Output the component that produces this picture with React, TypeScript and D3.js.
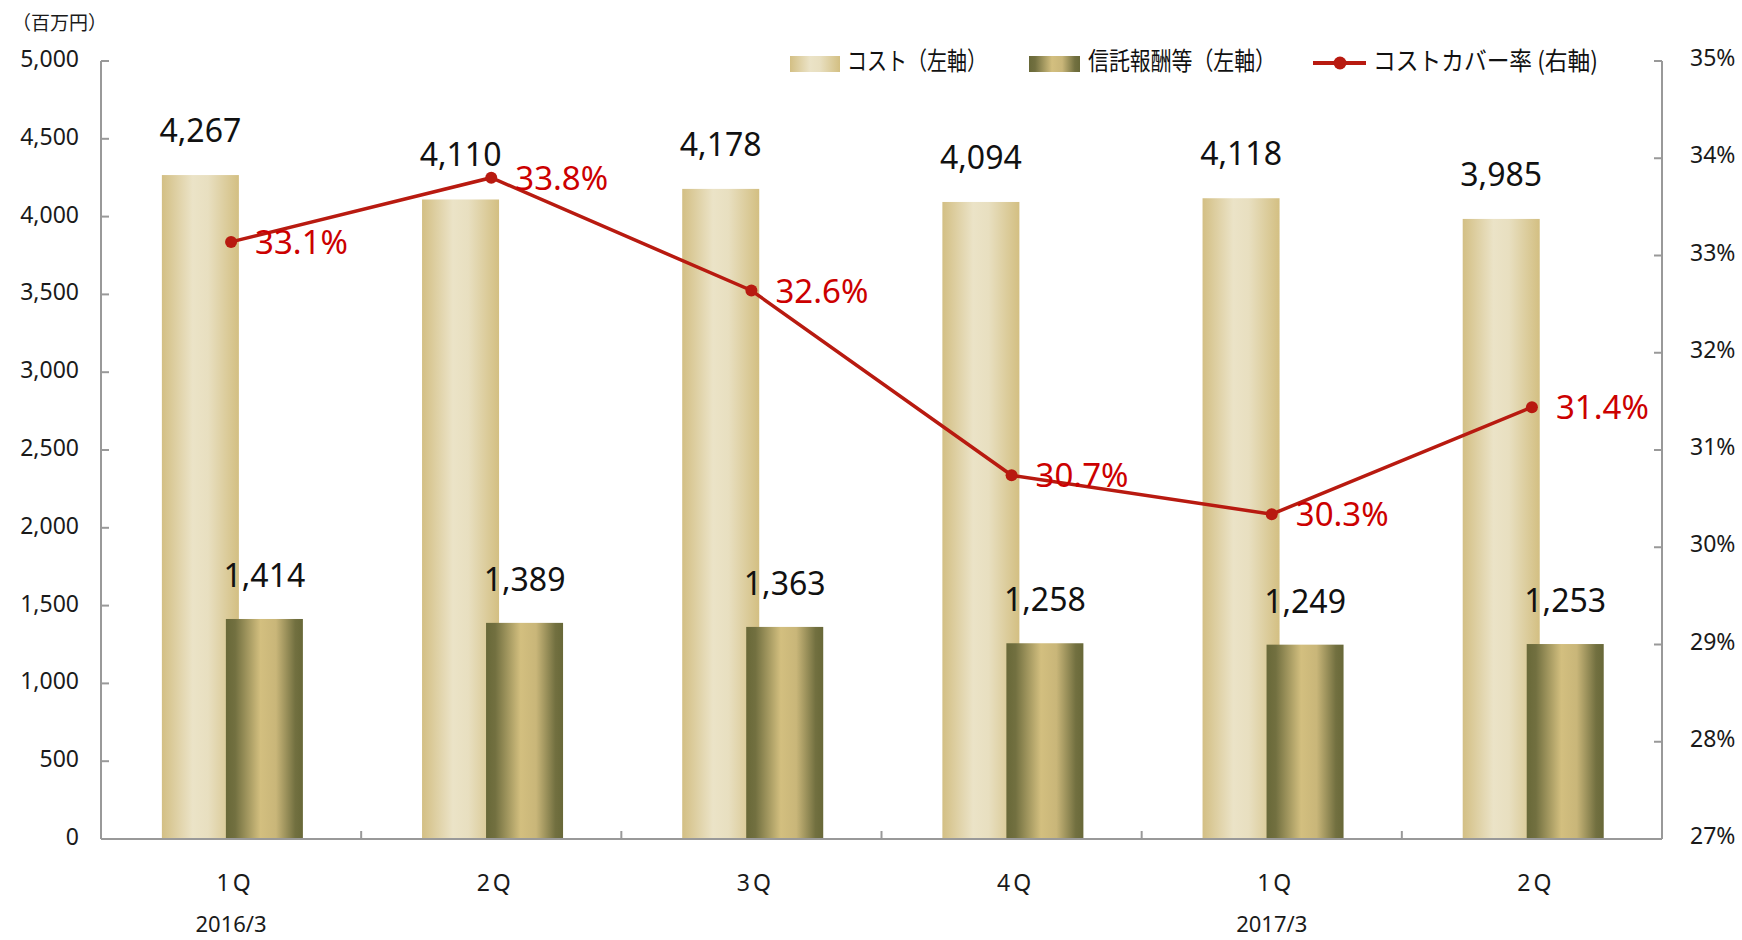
import React, { useEffect, useRef } from 'react';
import * as d3 from 'd3';

// quarters and values
const quarters = ["1Q", "2Q", "3Q", "4Q", "1Q", "2Q"];
const fiscalYears = ["2016/3", "", "", "", "2017/3", ""];
const cost = [4267, 4110, 4178, 4094, 4118, 3985];
const trustFees = [1414, 1389, 1363, 1258, 1249, 1253];
const coverRate = [33.14, 33.8, 32.64, 30.74, 30.34, 31.44];

const leftTicks = [0, 500, 1000, 1500, 2000, 2500, 3000, 3500, 4000, 4500, 5000];
const rightTicks = [27, 28, 29, 30, 31, 32, 33, 34, 35];

const width = 1742;
const height = 940;
const margin = { top: 61, right: 80, bottom: 101, left: 101 };

const jpFont = "'Noto Sans CJK JP', 'Noto Sans', sans-serif";
const numFont = "'Noto Sans', 'DejaVu Sans', sans-serif";

function App() {
  const ref = useRef<SVGSVGElement>(null);

  useEffect(() => {
    const svg = d3.select(ref.current);
    svg.selectAll("*").remove();

    const x = d3.scaleBand<number>()
      .domain(d3.range(quarters.length))
      .range([margin.left, width - margin.right])
      .padding(0);

    const y = d3.scaleLinear().domain([0, 5000]).range([height - margin.bottom, margin.top]);
    const y2 = d3.scaleLinear().domain([27, 35]).range([height - margin.bottom, margin.top]);

    const bw = x.bandwidth();
    const barW = bw * 0.296;
    const costX = (i: number) => x(i)! + bw * 0.234;
    const feeX = (i: number) => x(i)! + bw * 0.48;

    // gradients
    const defs = svg.append("defs");
    const g1 = defs.append("linearGradient").attr("id", "costGrad").attr("x1", "0").attr("x2", "1").attr("y1", "0").attr("y2", "0");
    g1.append("stop").attr("offset", "0%").attr("stop-color", "#d3bf84");
    g1.append("stop").attr("offset", "40%").attr("stop-color", "#ebe3c7");
    g1.append("stop").attr("offset", "60%").attr("stop-color", "#e8dfc0");
    g1.append("stop").attr("offset", "100%").attr("stop-color", "#d3bf82");
    const g2 = defs.append("linearGradient").attr("id", "feeGrad").attr("x1", "0").attr("x2", "1").attr("y1", "0").attr("y2", "0");
    g2.append("stop").attr("offset", "0%").attr("stop-color", "#686838");
    g2.append("stop").attr("offset", "12%").attr("stop-color", "#727040");
    g2.append("stop").attr("offset", "45%").attr("stop-color", "#d3bf7f");
    g2.append("stop").attr("offset", "65%").attr("stop-color", "#c9b679");
    g2.append("stop").attr("offset", "90%").attr("stop-color", "#727040");
    g2.append("stop").attr("offset", "100%").attr("stop-color", "#686838");

    // bars
    svg.append("g").selectAll("rect").data(cost).join("rect")
      .attr("x", (d, i) => costX(i))
      .attr("y", d => y(d))
      .attr("width", barW)
      .attr("height", d => y(0) - y(d) + 1)
      .attr("fill", "url(#costGrad)");

    svg.append("g").selectAll("rect").data(trustFees).join("rect")
      .attr("x", (d, i) => feeX(i))
      .attr("y", d => y(d))
      .attr("width", barW)
      .attr("height", d => y(0) - y(d) + 1)
      .attr("fill", "url(#feeGrad)");

    // axes
    const axisColor = "#999999";
    const axes = svg.append("g").attr("stroke", axisColor).attr("stroke-width", 2).attr("fill", "none");
    axes.append("line").attr("x1", margin.left).attr("x2", margin.left).attr("y1", y(5000)).attr("y2", y(0));
    axes.append("line").attr("x1", width - margin.right).attr("x2", width - margin.right).attr("y1", y2(35)).attr("y2", y2(27));
    axes.append("line").attr("x1", margin.left).attr("x2", width - margin.right).attr("y1", y(0)).attr("y2", y(0));
    axes.selectAll(".lt").data(leftTicks).join("line")
      .attr("x1", margin.left).attr("x2", margin.left + 8)
      .attr("y1", d => y(d)).attr("y2", d => y(d));
    axes.selectAll(".rt").data(rightTicks).join("line")
      .attr("class", "rt")
      .attr("x1", width - margin.right - 8).attr("x2", width - margin.right)
      .attr("y1", d => y2(d)).attr("y2", d => y2(d));
    axes.selectAll(".xt").data(d3.range(1, quarters.length)).join("line")
      .attr("class", "xt")
      .attr("x1", d => x(d)!).attr("x2", d => x(d)!)
      .attr("y1", y(0)).attr("y2", y(0) - 8);

    // tick labels
    const fmt = d3.format(",");
    svg.append("g").selectAll("text").data(leftTicks).join("text")
      .attr("x", 79).attr("y", d => y(d) + 6)
      .attr("text-anchor", "end")
      .attr("font-family", numFont).attr("font-size", 23).attr("fill", "#1a1a1a")
      .text(d => fmt(d));
    svg.append("g").selectAll("text").data(rightTicks).join("text")
      .attr("x", 1690).attr("y", d => y2(d) + 5)
      .attr("font-family", numFont).attr("font-size", 23).attr("fill", "#1a1a1a")
      .text(d => d + "%");

    svg.append("text").attr("x", 12).attr("y", 30)
      .attr("font-family", jpFont).attr("font-size", 19).attr("fill", "#1a1a1a")
      .text("（百万円）");

    svg.append("g").selectAll("text").data(quarters).join("text")
      .attr("x", (d, i) => x(i)! + bw / 2 + 4).attr("y", 891)
      .attr("text-anchor", "middle")
      .attr("font-family", numFont).attr("font-size", 23).attr("letter-spacing", 3).attr("fill", "#1a1a1a")
      .text(d => d);
    svg.append("g").selectAll("text").data(fiscalYears).join("text")
      .attr("x", (d, i) => x(i)! + bw / 2).attr("y", 932)
      .attr("text-anchor", "middle")
      .attr("font-family", numFont).attr("font-size", 22).attr("fill", "#1a1a1a")
      .text(d => d);

    // bar value labels
    svg.append("g").selectAll("text").data(cost).join("text")
      .attr("x", (d, i) => costX(i) + barW / 2).attr("y", d => y(d) - 33)
      .attr("text-anchor", "middle")
      .attr("font-family", numFont).attr("font-size", 32).attr("fill", "#111")
      .text(d => fmt(d));
    svg.append("g").selectAll("text").data(trustFees).join("text")
      .attr("x", (d, i) => feeX(i) + barW / 2).attr("y", d => y(d) - 32)
      .attr("text-anchor", "middle")
      .attr("font-family", numFont).attr("font-size", 32).attr("fill", "#111")
      .text(d => fmt(d));

    // cover rate line
    const lineColor = "#b81a10";
    const line = d3.line<number>()
      .x((d, i) => x(i)! + bw / 2)
      .y(d => y2(d));
    svg.append("path").datum(coverRate)
      .attr("d", line)
      .attr("fill", "none").attr("stroke", lineColor).attr("stroke-width", 3.5);
    svg.append("g").selectAll("circle").data(coverRate).join("circle")
      .attr("cx", (d, i) => x(i)! + bw / 2).attr("cy", d => y2(d))
      .attr("r", 6).attr("fill", lineColor);
    svg.append("g").selectAll("text").data(coverRate).join("text")
      .attr("x", (d, i) => x(i)! + bw / 2 + 24).attr("y", d => y2(d) + 12)
      .attr("font-family", numFont).attr("font-size", 33).attr("fill", "#cc0000")
      .text(d => d.toFixed(1) + "%");

    // legend
    const leg = svg.append("g").attr("font-family", jpFont).attr("font-size", 25).attr("fill", "#111");
    leg.append("rect").attr("x", 790).attr("y", 56).attr("width", 50).attr("height", 16).attr("fill", "url(#costGrad)");
    leg.append("text").attr("x", 847).attr("y", 70).attr("textLength", 140).attr("lengthAdjust", "spacingAndGlyphs").text("コスト（左軸）");
    leg.append("rect").attr("x", 1029).attr("y", 56).attr("width", 51).attr("height", 16).attr("fill", "url(#feeGrad)");
    leg.append("text").attr("x", 1088).attr("y", 70).attr("textLength", 188).attr("lengthAdjust", "spacingAndGlyphs").text("信託報酬等（左軸）");
    leg.append("line").attr("x1", 1313).attr("x2", 1366).attr("y1", 63).attr("y2", 63).attr("stroke", lineColor).attr("stroke-width", 4);
    leg.append("circle").attr("cx", 1340).attr("cy", 63).attr("r", 6.5).attr("fill", lineColor);
    leg.append("text").attr("x", 1373).attr("y", 70).attr("textLength", 225).attr("lengthAdjust", "spacingAndGlyphs").text("コストカバー率 (右軸)");
  }, []);

  return (
    <svg ref={ref} width={width} height={height}
      style={{ position: "absolute", left: 0, top: 0, background: "#fff" }} />
  );
}

export default App;
